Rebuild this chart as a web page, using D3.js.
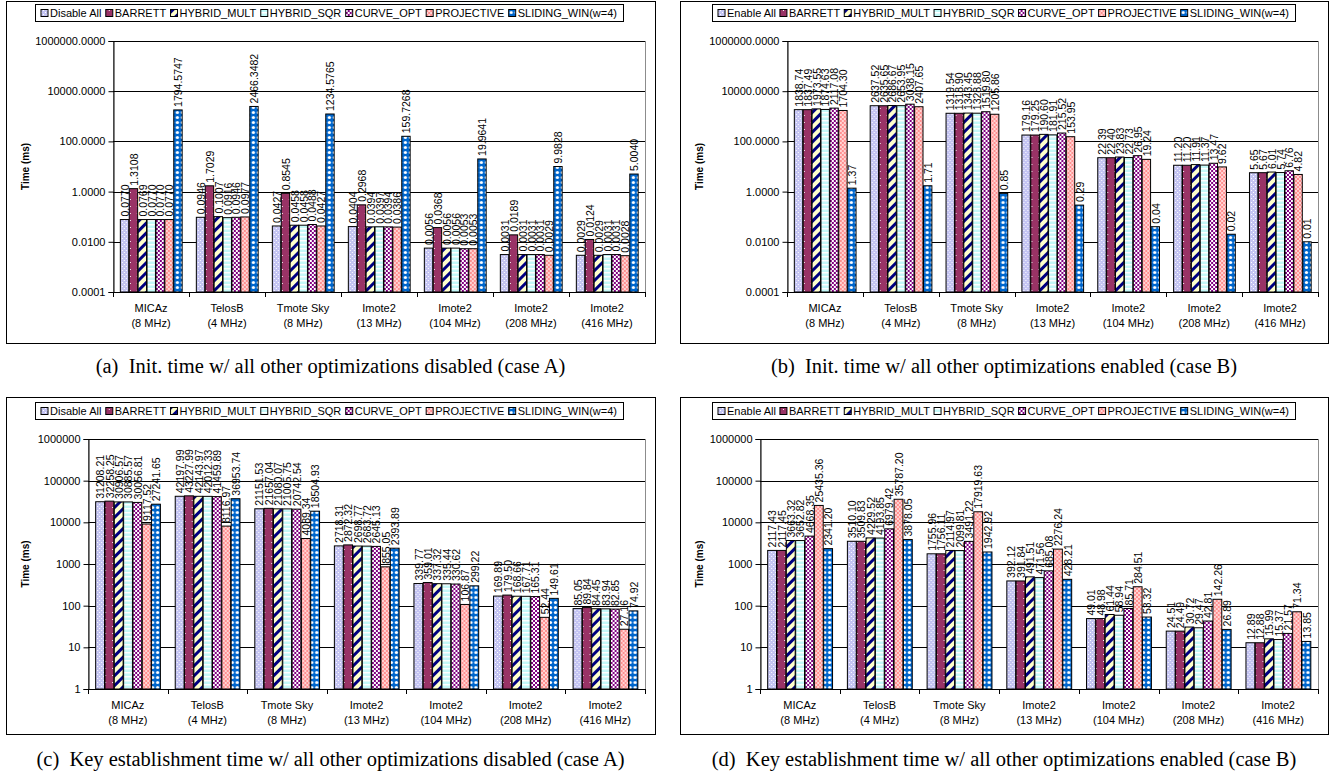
<!DOCTYPE html>
<html><head><meta charset="utf-8">
<script src="https://cdn.jsdelivr.net/npm/d3@7"></script>
<style>
html,body{margin:0;padding:0;background:#fff;}
svg{display:block;}
text{font-family:"Liberation Sans",Arial,sans-serif;}
text.caption{font-family:"Liberation Serif","Times New Roman",serif;}
</style></head><body>
<svg id="fig" width="1330" height="784"></svg>
<script>
// Platforms (x categories), two-line labels
const devices = ["MICAz", "TelosB", "Tmote Sky", "Imote2", "Imote2", "Imote2", "Imote2"];
const clocks = ["(8 MHz)", "(4 MHz)", "(8 MHz)", "(13 MHz)", "(104 MHz)", "(208 MHz)", "(416 MHz)"];

// Series names (case A: all other optimizations disabled, case B: enabled)
const seriesCaseA = ["Disable All", "BARRETT", "HYBRID_MULT", "HYBRID_SQR", "CURVE_OPT", "PROJECTIVE", "SLIDING_WIN(w=4)"];
const seriesCaseB = ["Enable All", "BARRETT", "HYBRID_MULT", "HYBRID_SQR", "CURVE_OPT", "PROJECTIVE", "SLIDING_WIN(w=4)"];

// Tick values of the log axes
const initTicks = [0.0001, 0.01, 1, 100, 10000, 1000000];
const keyTicks = [1, 10, 100, 1000, 10000, 100000, 1000000];

// Times in ms: one row per platform, columns in series order
const initTimeDisabled = [
  [0.0770, 1.3108, 0.0769, 0.0770, 0.0770, 0.0770, 1794.5747],
  [0.0946, 1.7029, 0.1007, 0.0916, 0.0946, 0.0977, 2466.3482],
  [0.0427, 0.8545, 0.0458, 0.0458, 0.0488, 0.0427, 1234.5765],
  [0.0404, 0.2968, 0.0394, 0.0397, 0.0394, 0.0386, 159.7268],
  [0.0056, 0.0368, 0.0056, 0.0056, 0.0053, 0.0053, 19.9641],
  [0.0031, 0.0189, 0.0031, 0.0031, 0.0031, 0.0029, 9.9828],
  [0.0029, 0.0124, 0.0029, 0.0031, 0.0031, 0.0028, 5.0040]
];
const initTimeEnabled = [
  [1838.74, 1837.49, 1973.55, 1874.63, 2117.08, 1704.30, 1.37],
  [2637.52, 2635.65, 2686.67, 2653.95, 3038.15, 2407.65, 1.71],
  [1319.54, 1318.90, 1343.45, 1328.88, 1519.80, 1205.86, 0.85],
  [179.16, 179.25, 190.60, 181.91, 215.52, 153.95, 0.29],
  [22.39, 22.40, 23.83, 22.73, 26.95, 19.24, 0.04],
  [11.20, 11.20, 11.91, 11.37, 13.47, 9.62, 0.02],
  [5.65, 5.67, 6.01, 5.74, 6.76, 4.82, 0.01]
];
const keyTimeDisabled = [
  [31208.21, 32258.25, 30906.57, 30885.57, 30056.81, 9117.52, 27241.65],
  [42197.99, 43227.99, 42143.97, 42012.33, 41459.89, 8116.97, 36953.74],
  [21151.53, 21657.04, 21080.07, 21005.75, 20742.54, 4089.34, 18504.93],
  [2718.31, 2872.32, 2698.77, 2683.72, 2645.13, 855.05, 2393.89],
  [339.77, 359.01, 337.32, 335.44, 330.62, 106.87, 299.22],
  [169.89, 179.50, 168.66, 167.71, 165.31, 52.44, 149.61],
  [85.05, 89.84, 84.45, 83.94, 82.85, 27.16, 74.92]
];
const keyTimeEnabled = [
  [2117.43, 2117.45, 3663.32, 3652.82, 4668.35, 25435.36, 2341.20],
  [3510.10, 3509.83, 4229.52, 4193.85, 6979.42, 35787.20, 3878.05],
  [1755.96, 1756.11, 2114.97, 2099.81, 3491.22, 17919.63, 1942.92],
  [392.12, 391.84, 491.51, 471.56, 685.08, 2276.24, 428.21],
  [49.01, 48.98, 61.44, 58.94, 85.71, 284.51, 53.32],
  [24.51, 24.49, 30.72, 29.47, 42.81, 142.26, 26.89],
  [12.89, 12.88, 15.99, 15.37, 21.57, 71.34, 13.85]
];

const captions = [
  "(a)  Init. time w/ all other optimizations disabled (case A)",
  "(b)  Init. time w/ all other optimizations enabled (case B)",
  "(c)  Key establishment time w/ all other optimizations disabled (case A)",
  "(d)  Key establishment time w/ all other optimizations enabled (case B)"
];

const svg = d3.select("#fig");
const defs = svg.append("defs");

// Fill patterns, one per series
function pattern(id, w, h, bg, draw, transform) {
  const p = defs.append("pattern").attr("id", id)
    .attr("patternUnits", "userSpaceOnUse").attr("width", w).attr("height", h);
  if (transform) p.attr("patternTransform", transform);
  p.append("rect").attr("width", w).attr("height", h).attr("fill", bg);
  draw(p);
}
pattern("pAll", 4, 4, "#c4c4f2", p => {
  p.append("rect").attr("x", 0).attr("y", 0).attr("width", 1).attr("height", 1).attr("fill", "#fff");
  p.append("rect").attr("x", 2).attr("y", 2).attr("width", 1).attr("height", 1).attr("fill", "#fff");
});
pattern("pBarrett", 7, 7, "#993366", p => {
  p.append("rect").attr("x", 3).attr("y", 3).attr("width", 1).attr("height", 1).attr("fill", "#fff");
});
pattern("pMult", 7, 7, "#ffffcc", p => {
  p.append("rect").attr("x", 0).attr("y", 0).attr("width", 3).attr("height", 7).attr("fill", "#000080");
}, "rotate(45)");
pattern("pSqr", 4, 4, "#c4f8f8", p => {
  p.append("rect").attr("x", 0).attr("y", 0).attr("width", 4).attr("height", 1.5).attr("fill", "#fff");
});
pattern("pCurve", 4, 4, "#ffffff", p => {
  p.append("rect").attr("x", 0).attr("y", 0).attr("width", 2).attr("height", 2).attr("fill", "#800080");
  p.append("rect").attr("x", 2).attr("y", 2).attr("width", 2).attr("height", 2).attr("fill", "#800080");
});
pattern("pProj", 4, 4, "#ff9090", p => {
  p.append("rect").attr("x", 0).attr("y", 0).attr("width", 2).attr("height", 2).attr("fill", "#ffd4d4");
  p.append("rect").attr("x", 2).attr("y", 2).attr("width", 2).attr("height", 2).attr("fill", "#ffd4d4");
});
pattern("pSlide", 5, 5, "#0066cc", p => {
  p.append("circle").attr("cx", 2.5).attr("cy", 2.5).attr("r", 1.6).attr("fill", "#fff");
});
const fills = ["pAll", "pBarrett", "pMult", "pSqr", "pCurve", "pProj", "pSlide"].map(d => `url(#${d})`);

const panels = [
  { frame: { x: 6, y: 1, w: 649, h: 342 }, plot: { l: 113, r: 645, t: 41, b: 292 },
    legend: { l: 35, r: 623, t: 4, b: 21 }, series: seriesCaseA, data: initTimeDisabled,
    ticks: initTicks, tickFmt: d3.format(".4f"), labelFmt: d3.format(".4f"),
    caption: captions[0], capY: 373 },
  { frame: { x: 680, y: 1, w: 648, h: 342 }, plot: { l: 787, r: 1318, t: 41, b: 292 },
    legend: { l: 712, r: 1295, t: 4, b: 21 }, series: seriesCaseB, data: initTimeEnabled,
    ticks: initTicks, tickFmt: d3.format(".4f"), labelFmt: d3.format(".2f"),
    caption: captions[1], capY: 373 },
  { frame: { x: 6, y: 397, w: 649, h: 337 }, plot: { l: 88, r: 645, t: 439, b: 689 },
    legend: { l: 35, r: 623, t: 402, b: 419 }, series: seriesCaseA, data: keyTimeDisabled,
    ticks: keyTicks, tickFmt: d3.format("d"), labelFmt: d3.format(".2f"),
    caption: captions[2], capY: 766 },
  { frame: { x: 680, y: 397, w: 648, h: 337 }, plot: { l: 760, r: 1318, t: 439, b: 689 },
    legend: { l: 712, r: 1295, t: 402, b: 419 }, series: seriesCaseB, data: keyTimeEnabled,
    ticks: keyTicks, tickFmt: d3.format("d"), labelFmt: d3.format(".2f"),
    caption: captions[3], capY: 766 }
];

panels.forEach(drawPanel);

function drawPanel(cfg) {
  const g = svg.append("g");
  const { frame, plot, legend } = cfg;

  // outer frame
  g.append("rect").attr("x", frame.x + 0.5).attr("y", frame.y + 0.5)
    .attr("width", frame.w).attr("height", frame.h)
    .attr("fill", "none").attr("stroke", "#000").attr("stroke-width", 1);

  const y = d3.scaleLog()
    .domain([cfg.ticks[0], cfg.ticks[cfg.ticks.length - 1]])
    .range([plot.b, plot.t]);
  const x = d3.scaleBand().domain(d3.range(devices.length))
    .range([plot.l, plot.r]).paddingInner(0.18).paddingOuter(0.09);
  const xs = d3.scaleBand().domain(d3.range(cfg.series.length)).range([0, x.bandwidth()]);

  // plot area border
  g.append("rect").attr("x", plot.l + 0.5).attr("y", plot.t + 0.5)
    .attr("width", plot.r - plot.l).attr("height", plot.b - plot.t)
    .attr("fill", "none").attr("stroke", "#8c8c8c");

  // gridlines
  g.append("g").selectAll("line").data(cfg.ticks).join("line")
    .attr("x1", plot.l).attr("x2", plot.r)
    .attr("y1", d => Math.round(y(d)) + 0.5).attr("y2", d => Math.round(y(d)) + 0.5)
    .attr("stroke", "#000");

  // y axis
  const yAxis = d3.axisLeft(y).tickValues(cfg.ticks).tickFormat(cfg.tickFmt)
    .tickSize(5).tickPadding(3);
  const ya = g.append("g").attr("transform", `translate(${plot.l + 0.5},0)`).call(yAxis);
  ya.select(".domain").attr("stroke", "#000");
  ya.selectAll(".tick line").attr("stroke", "#000");
  ya.selectAll(".tick text").attr("font-size", 11).attr("fill", "#000")
    .attr("font-family", "Liberation Sans, Arial, sans-serif");

  // x axis: ticks at category boundaries
  const bounds = d3.range(devices.length + 1).map(i => plot.l + i * x.step());
  g.append("line").attr("x1", plot.l).attr("x2", plot.r)
    .attr("y1", plot.b + 0.5).attr("y2", plot.b + 0.5).attr("stroke", "#000");
  g.append("g").selectAll("line").data(bounds).join("line")
    .attr("x1", d => Math.round(d) + 0.5).attr("x2", d => Math.round(d) + 0.5)
    .attr("y1", plot.b).attr("y2", plot.b + 5).attr("stroke", "#000");

  const cat = g.append("g").selectAll("text").data(devices).join("text")
    .attr("x", (d, i) => x(i) + x.bandwidth() / 2)
    .attr("text-anchor", "middle").attr("font-size", 11).attr("fill", "#000");
  cat.append("tspan").attr("x", (d, i) => x(i) + x.bandwidth() / 2)
    .attr("y", plot.b + 20).text(d => d);
  cat.append("tspan").attr("x", (d, i) => x(i) + x.bandwidth() / 2)
    .attr("y", plot.b + 35).text((d, i) => clocks[i]);

  // y axis title
  g.append("text")
    .attr("transform", `translate(${frame.x + 23},${(plot.t + plot.b) / 2}) rotate(-90)`)
    .attr("text-anchor", "middle").attr("font-size", 10).attr("font-weight", "bold")
    .text("Time (ms)");

  // bars
  const groups = g.append("g").selectAll("g").data(cfg.data).join("g")
    .attr("transform", (d, i) => `translate(${x(i)},0)`);
  groups.selectAll("rect").data(d => d).join("rect")
    .attr("x", (d, j) => xs(j) + 0.5)
    .attr("y", d => y(d))
    .attr("width", xs.bandwidth() - 0.5)
    .attr("height", d => plot.b - y(d))
    .attr("fill", (d, j) => fills[j])
    .attr("stroke", "#000").attr("stroke-width", 1);

  // value labels
  groups.selectAll("text").data(d => d).join("text")
    .attr("transform", (d, j) => `translate(${xs(j) + xs.bandwidth() / 2 + 0.5},${y(d) - 3}) rotate(-90)`)
    .attr("dominant-baseline", "central")
    .attr("font-size", 10.5).attr("fill", "#000")
    .text(d => cfg.labelFmt(d));

  // legend
  const lg = g.append("g");
  lg.append("rect").attr("x", legend.l + 0.5).attr("y", legend.t + 0.5)
    .attr("width", legend.r - legend.l).attr("height", legend.b - legend.t)
    .attr("fill", "#fff").attr("stroke", "#000");
  const cy = (legend.t + legend.b) / 2 + 0.5;
  const items = lg.selectAll("g").data(cfg.series).join("g");
  items.append("rect").attr("width", 7).attr("height", 7).attr("y", cy - 3.5)
    .attr("fill", (d, j) => fills[j]).attr("stroke", "#000").attr("stroke-width", 1);
  items.append("text").attr("x", 9).attr("y", cy).attr("dominant-baseline", "central")
    .attr("font-size", 11).attr("fill", "#000").text(d => d);
  const widths = [];
  items.each(function () { widths.push(9 + d3.select(this).select("text").node().getComputedTextLength()); });
  const pad = 6;
  const gap = (legend.r - legend.l - 2 * pad - d3.sum(widths)) / (widths.length - 1);
  let cx = legend.l + pad;
  items.each(function (d, j) {
    d3.select(this).attr("transform", `translate(${cx},0)`);
    cx += widths[j] + gap;
  });

  // caption
  g.append("text").attr("class", "caption")
    .attr("x", frame.x + frame.w / 2).attr("y", cfg.capY)
    .attr("text-anchor", "middle").attr("font-size", 20.5)
    .style("white-space", "pre")
    .text(cfg.caption);
}
</script>
</body></html>
